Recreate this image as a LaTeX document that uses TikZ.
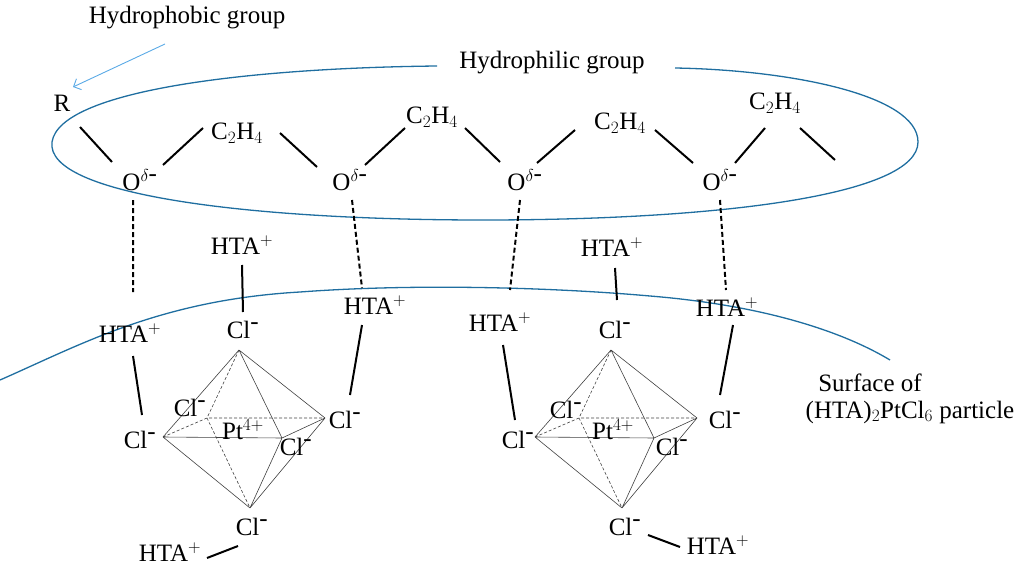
\documentclass[tikz,border=0pt]{standalone}
\usepackage{fontspec}
\setmainfont{Liberation Serif}
\usetikzlibrary{arrows.meta}
\newcommand{\mn}{\mbox{-}}
\begin{document}
\begin{tikzpicture}[x=1pt,y=-1pt,
  lbl/.style={font=\fontsize{25}{28}\selectfont,inner sep=0pt},
  bond/.style={line width=2pt,black},
  hb/.style={line width=2pt,black,dash pattern=on 5pt off 3pt},
  oct/.style={line width=0.6pt,black!75},
  octd/.style={oct,dash pattern=on 3pt off 2pt},
  bl/.style={color={rgb,255:red,31;green,110;blue,160},line width=1.3pt}]
\useasboundingbox (0,0) rectangle (1024,580);
% ellipse (open at top)
\draw[bl] (437,66) .. controls (250,68) and (60,90) .. (52,142)
  .. controls (45,195) and (250,220) .. (483,220)
  .. controls (720,220) and (918,195) .. (918,142)
  .. controls (918,95) and (790,70) .. (675,68);
\node[lbl] (hphil) at (552,63) {Hydrophilic group};
\node[lbl] (hphob) at (187,18) {Hydrophobic group};
\coordinate (a1) at (165,44); \coordinate (a2) at (73,87);
\draw[-{Straight Barb[length=6pt,width=12pt]},color={rgb,255:red,90;green,170;blue,230},line width=0.9pt] (a1) -- (a2);
% surface
\draw[bl] (0,380) .. controls (80,345) and (160,300) .. (300,292)
  .. controls (420,283) and (560,288) .. (650,296)
  .. controls (760,305) and (840,330) .. (890,360);
\node[lbl] (s1) at (870,383) {Surface of};
\node[lbl] (s2) at (910,412) {(HTA)$_2$PtCl$_6$ particle};
% chain
\node[lbl] (R) at (62,103) {R};
\foreach \n/\x in {1/140,2/350,3/525,4/720}
  \node[lbl] (O\n) at (\x,180) {O$^{\delta\mn}$};
\node[lbl] (C1) at (237,133) {C$_2$H$_4$};
\node[lbl] (C2) at (432,117) {C$_2$H$_4$};
\node[lbl] (C3) at (620,123) {C$_2$H$_4$};
\node[lbl] (C4) at (775,103) {C$_2$H$_4$};
\draw[bond] (80,127)--(112,162) (163,165)--(203,128) (280,133)--(317,167)
 (365,165)--(405,128) (465,128)--(500,162) (537,163)--(575,130)
 (655,130)--(693,163) (735,163)--(765,128) (800,128)--(835,160);
% HTA
\node[lbl] (H1) at (130,333) {HTA$^+$};
\node[lbl] (H2) at (375,305) {HTA$^+$};
\node[lbl] (H3) at (500,322) {HTA$^+$};
\node[lbl] (H4) at (727,307) {HTA$^+$};
\node[lbl] (H5) at (242,245) {HTA$^+$};
\node[lbl] (H6) at (612,247) {HTA$^+$};
\node[lbl] (H7) at (170,552) {HTA$^+$};
\node[lbl] (H8) at (718,545) {HTA$^+$};
\draw[hb] (133,200)--(133,292) (352,200)--(362,288) (520,200)--(510,290) (720,200)--(726,290);
% octahedra
\foreach \dx/\s in {0/L,372/R}{
 \begin{scope}[xshift=\dx]
  \coordinate (t\s) at (239,350); \coordinate (l\s) at (163,437);
  \coordinate (b\s) at (207,418); \coordinate (r\s) at (325,418);
  \coordinate (f\s) at (282,438); \coordinate (d\s) at (250,508);
  \draw[oct] (t\s)--(l\s) (t\s)--(f\s) (t\s)--(r\s) (l\s)--(f\s) (l\s)--(d\s)
    (f\s)--(d\s) (f\s)--(r\s) (r\s)--(d\s);
  \draw[octd] (t\s)--(b\s)--(d\s) (l\s)--(b\s)--(r\s);
 \end{scope}}
\node[lbl] (ClLt) at (243,330) {Cl$^{\mn}$};
\node[lbl] (ClLl) at (140,440) {Cl$^{\mn}$};
\node[lbl] (ClLb) at (190,408) {Cl$^{\mn}$};
\node[lbl] (ClLr) at (345,420) {Cl$^{\mn}$};
\node[lbl] (ClLf) at (296,447) {Cl$^{\mn}$};
\node[lbl] (ClLd) at (252,527) {Cl$^{\mn}$};
\node[lbl] (PtL) at (243,430) {Pt$^{4+}$};
\node[lbl] (ClRt) at (615,330) {Cl$^{\mn}$};
\node[lbl] (ClRl) at (518,440) {Cl$^{\mn}$};
\node[lbl] (ClRb) at (566,410) {Cl$^{\mn}$};
\node[lbl] (ClRr) at (725,420) {Cl$^{\mn}$};
\node[lbl] (ClRf) at (672,447) {Cl$^{\mn}$};
\node[lbl] (ClRd) at (625,527) {Cl$^{\mn}$};
\node[lbl] (PtR) at (613,430) {Pt$^{4+}$};
\draw[bond] (133,356)--(142,415) (242,265)--(243,312) (362,325)--(350,395)
 (207,558)--(238,546) (503,345)--(515,420) (615,268)--(617,300)
 (733,325)--(720,395) (648,535)--(680,547);
\end{tikzpicture}
\end{document}
